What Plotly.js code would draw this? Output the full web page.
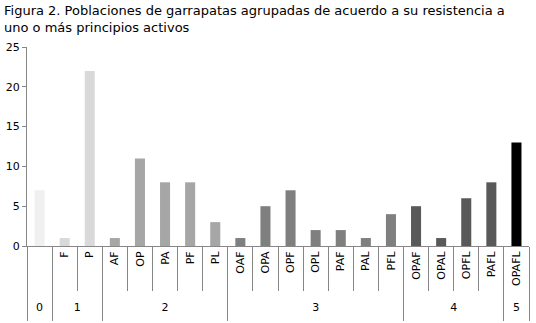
<!DOCTYPE html>
<html>
<head>
<meta charset="utf-8">
<script src="https://cdn.plot.ly/plotly-3.0.1.min.js"></script>
<style>html,body{margin:0;padding:0;background:#fff}#chart{width:536px;height:323px}</style>
</head>
<body>
<div id="chart"></div>
<script>
// Data
const categories = [' ', 'F', 'P', 'AF', 'OP', 'PA', 'PF', 'PL', 'OAF', 'OPA', 'OPF', 'OPL', 'PAF', 'PAL', 'PFL', 'OPAF', 'OPAL', 'OPFL', 'PAFL', 'OPAFL'];
const values = [7, 1, 22, 1, 11, 8, 8, 3, 1, 5, 7, 2, 2, 1, 4, 5, 1, 6, 8, 13];
const groupLabels = ['0', '1', '2', '3', '4', '5'];
const groupSizes = [1, 2, 5, 7, 4, 1];
const groupColors = ['#f0f0f0', '#d9d9d9', '#a6a6a6', '#7f7f7f', '#595959', '#000000'];
const titleText = 'Figura 2. Poblaciones de garrapatas agrupadas de acuerdo a su resistencia a<br>uno o más principios activos';

// Derived
const barColors = [];
const groupBounds = [-0.5];
const groupCenters = [];
let start = 0;
groupSizes.forEach((n, g) => {
  for (let i = 0; i < n; i++) barColors.push(groupColors[g]);
  groupCenters.push(start + (n - 1) / 2);
  start += n;
  groupBounds.push(start - 0.5);
});
const catBounds = [];
for (let i = 0; i <= categories.length; i++) catBounds.push(i - 0.5);
const xr = [-0.5, categories.length - 0.5];

const font = 'DejaVu Sans, Verdana, sans-serif';
const lineCol = '#868686';

const data = [
  { type: 'bar', x: categories, y: values, marker: { color: barColors }, width: 0.4, hoverinfo: 'x+y' },
  { type: 'scatter', x: [xr[0]], y: [0], xaxis: 'x2', mode: 'markers', marker: { opacity: 0 }, hoverinfo: 'skip', showlegend: false },
  { type: 'scatter', x: [xr[0]], y: [0], xaxis: 'x3', mode: 'markers', marker: { opacity: 0 }, hoverinfo: 'skip', showlegend: false },
  { type: 'scatter', x: [xr[0]], y: [0], xaxis: 'x4', mode: 'markers', marker: { opacity: 0 }, hoverinfo: 'skip', showlegend: false }
];

const layout = {
  width: 536, height: 323,
  margin: { l: 27, r: 7, t: 47, b: 77 },
  paper_bgcolor: '#ffffff', plot_bgcolor: '#ffffff',
  showlegend: false,
  font: { family: font, size: 11, color: '#000000' },
  annotations: [{
    text: titleText, showarrow: false,
    xref: 'paper', x: -25 / 502, xanchor: 'left',
    yref: 'paper', y: 1 + 46 / 199, yanchor: 'top',
    align: 'left',
    font: { family: font, size: 13, color: '#000000' }
  }],
  xaxis: {
    type: 'category', range: xr, tickangle: -90,
    showline: true, linecolor: lineCol, linewidth: 1,
    ticks: '', showgrid: false, zeroline: false,
    tickfont: { family: font, size: 11, color: '#000000' }
  },
  xaxis2: {
    overlaying: 'x', anchor: 'y', side: 'bottom', range: xr,
    tickmode: 'array', tickvals: catBounds, showticklabels: false,
    ticks: 'outside', ticklen: 44, tickcolor: lineCol, tickwidth: 1,
    showgrid: false, zeroline: false, showline: false
  },
  xaxis3: {
    overlaying: 'x', anchor: 'y', side: 'bottom', range: xr,
    tickmode: 'array', tickvals: groupBounds, showticklabels: false,
    ticks: 'outside', ticklen: 74, tickcolor: lineCol, tickwidth: 1,
    showgrid: false, zeroline: false, showline: false
  },
  xaxis4: {
    overlaying: 'x', anchor: 'y', side: 'bottom', range: xr,
    tickmode: 'array', tickvals: groupCenters, ticktext: groupLabels,
    ticks: 'outside', ticklen: 51, tickcolor: 'rgba(0,0,0,0)',
    tickfont: { family: font, size: 11, color: '#000000' },
    showgrid: false, zeroline: false, showline: false
  },
  yaxis: {
    range: [0, 25], dtick: 5, tick0: 0,
    showline: true, linecolor: lineCol, linewidth: 1,
    ticks: 'outside', ticklen: 4, tickcolor: lineCol,
    showgrid: false, zeroline: false,
    tickfont: { family: font, size: 11, color: '#000000' }
  },
  bargap: 0.6
};

Plotly.newPlot('chart', data, layout, { displayModeBar: false, staticPlot: true });
</script>
</body>
</html>
